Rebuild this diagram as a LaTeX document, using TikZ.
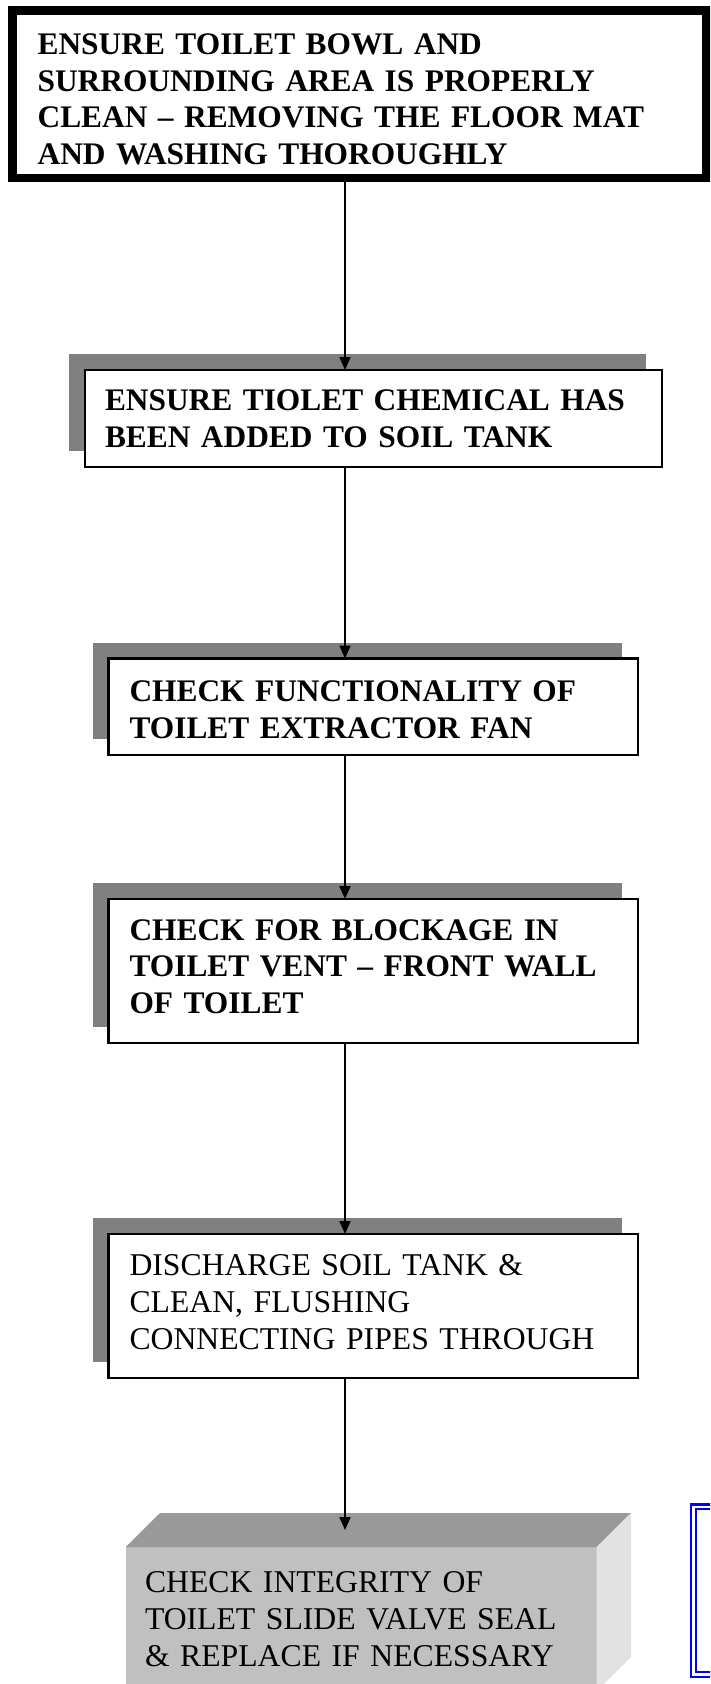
\documentclass[tikz,border=0pt]{standalone}
\usepackage{fontspec}
\setmainfont{Liberation Serif}
\usetikzlibrary{arrows.meta,shadows,calc}
\definecolor{shadowgray}{RGB}{128,128,128}
\definecolor{topgray}{RGB}{153,153,153}
\definecolor{frontgray}{RGB}{192,192,192}
\definecolor{sidegray}{RGB}{226,226,226}

\begin{document}
\begin{tikzpicture}[x=1pt, y=-1pt,
                    every node/.style={outer sep=0pt, align=left,
                      font=\fontsize{31.7}{36.8}\selectfont},
                    boldtext/.style={font=\fontsize{31.4}{36.8}\selectfont\bfseries},
                    stepbox/.style={draw, fill=white, line width=2.6pt,
                      anchor=north west, inner xsep=21pt, inner ysep=0pt,
                      minimum width=529.5pt, text width=487.5pt,
                      drop shadow={shadow xshift=-16pt, shadow yshift=16pt,
                                   fill=shadowgray, opacity=1}},
                    arr/.style={-{Triangle[width=11pt,length=13pt]}, line width=1.8pt}]
  \useasboundingbox (0,0) rectangle (710,1684);
  \clip (0,0) rectangle (710,1684);
  \coordinate (axis) at (345,0);

  \node[draw, line width=8.5pt, anchor=north west, inner xsep=25.3pt,
        minimum width=694pt, minimum height=167.3pt, text width=643.4pt,
        boldtext] (clean) at (12.3,10.5)
    {\rule{0pt}{31pt}ENSURE TOILET BOWL AND\\
     SURROUNDING AREA IS PROPERLY\\
     CLEAN – REMOVING THE FLOOR MAT\\
     AND WASHING THOROUGHLY};

  \node[stepbox, line width=1.3pt, inner xsep=20pt, minimum width=577pt,
        text width=537pt, minimum height=97pt, boldtext] (chem) at (85,370)
    {ENSURE TIOLET CHEMICAL HAS\\
     BEEN ADDED TO SOIL TANK};

  \node[stepbox, minimum height=96.5pt, boldtext] (fan) at (108.5,658.5)
    {\rule{0pt}{27pt}CHECK FUNCTIONALITY OF\\
     TOILET EXTRACTOR FAN};

  \node[stepbox, minimum height=144pt, boldtext] (vent) at (108.5,899)
    {CHECK FOR BLOCKAGE IN\\
     TOILET VENT – FRONT WALL\\
     OF TOILET\rule[-9pt]{0pt}{9pt}};

  \node[stepbox, minimum height=144pt] (tank) at (108.5,1234)
    {DISCHARGE SOIL TANK \&\\
     CLEAN, FLUSHING\\
     CONNECTING PIPES THROUGH\rule[-8pt]{0pt}{8pt}};

  \node[fill=frontgray, anchor=north west, inner xsep=19.3pt, inner ysep=0pt,
        minimum width=471pt, text width=432.4pt, minimum height=144pt] (valve) at (125.7,1547)
    {CHECK INTEGRITY OF\\
     TOILET SLIDE VALVE SEAL\\
     \& REPLACE IF NECESSARY};
  \fill[topgray] (valve.north west) -- ($(valve.north west)+(34.3,-34)$)
    -- ($(valve.north east)+(34.3,-34)$) -- (valve.north east) -- cycle;
  \fill[sidegray] (valve.north east) -- ($(valve.north east)+(34.3,-34)$)
    -- ($(valve.south east)+(34.3,-34)$) -- (valve.south east) -- cycle;
  \coordinate (valvetop) at ($(valve.north)+(0,-17)$);

  \node[draw=blue, double=white, line width=2.5pt, double distance=2.4pt,
        anchor=north west, minimum width=60pt, minimum height=167.8pt] (note) at (693.3,1506.7) {};

  \draw[arr] (clean.south -| axis) -- (chem.north -| axis);
  \draw[arr] (chem.south -| axis) -- (fan.north -| axis);
  \draw[arr] (fan.south -| axis) -- (vent.north -| axis);
  \draw[arr] (vent.south -| axis) -- (tank.north -| axis);
  \draw[arr] (tank.south -| axis) -- (valvetop -| axis);
\end{tikzpicture}
\end{document}
